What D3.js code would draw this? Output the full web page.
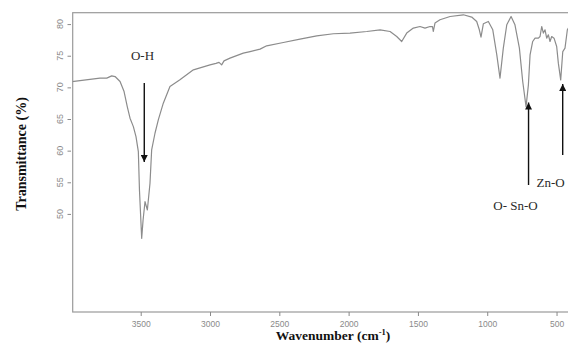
<!DOCTYPE html>
<html>
<head>
<meta charset="utf-8">
<script src="https://cdn.jsdelivr.net/npm/d3@7"></script>
<style>
  html, body { margin: 0; padding: 0; background: #fff; }
  svg { display: block; }
</style>
</head>
<body>
<svg id="chart" width="568" height="347"></svg>
<script>
// FTIR spectrum: wavenumber (cm^-1) and transmittance (%)
const wavenumbers = [4000, 3794, 3745, 3709, 3685, 3649, 3620, 3597, 3577, 3553, 3534, 3517, 3509,
  3493, 3483, 3469, 3452, 3433, 3421, 3397, 3373, 3337, 3289, 3217, 3120, 3000, 2957, 2935, 2916,
  2899, 2856, 2760, 2711, 2639, 2591, 2471, 2351, 2230, 2110, 1990, 1869, 1773, 1701, 1653, 1617,
  1581, 1533, 1485, 1449, 1413, 1395, 1389, 1377, 1341, 1268, 1172, 1112, 1076, 1057, 1045, 1028,
  992, 960, 931, 908, 884, 859, 828, 800, 768, 744, 720, 703, 691, 672, 655, 631, 619, 607, 595,
  583, 571, 559, 547, 535, 518, 499, 487, 470, 455, 439, 422, 400];
const transmittance = [70.9, 71.46, 71.46, 71.82, 71.71, 70.92, 69.34, 66.96, 65.13, 63.8, 62.22, 59.84, 53.78,
  46.14, 49.0, 51.93, 50.62, 54.84, 60.11, 62.75, 64.86, 67.5, 70.13, 71.19, 72.77, 73.56, 73.8, 73.96, 73.56,
  74.19, 74.62, 75.41, 75.66, 76.04, 76.57, 77.09, 77.63, 78.15, 78.47, 78.58, 78.83, 79.1, 78.83, 78.04, 77.25,
  78.58, 79.37, 79.62, 79.37, 79.62, 79.6, 78.83, 80.16, 80.68, 81.2, 81.47, 81.11, 80.41, 79.1, 77.94, 80.05,
  80.41, 79.1, 75.14, 71.46, 76.2, 79.89, 81.2, 79.89, 76.2, 70.92, 66.96, 70.4, 75.14, 77.25, 77.78, 77.78, 78.04, 79.62, 78.58,
  79.1, 77.78, 78.31, 77.25, 78.04, 77.78, 76.46, 73.83, 71.19, 75.66, 76.2, 79.1, 79.9];

const xTicks = [3500, 3000, 2500, 2000, 1500, 1000, 500];
const yTicks = [50, 55, 60, 65, 70, 75, 80];

// Band assignments and the wavenumber each arrow points at
const bandLabels = ["O-H", "O- Sn-O", "Zn-O"];
const bandWavenumbers = [3493, 720, 470];

const svg = d3.select("#chart");
const plotLeft = 72.7, plotTop = 12.7, plotBottom = 312, plotRight = 572;

const x = d3.scaleLinear().domain([4000, 400]).range([71.4, 570.4]);
const y = d3.scaleLinear().domain([34.5, 81.8]).range([plotBottom, plotTop]);

// Plot frame
svg.append("rect")
  .attr("x", plotLeft).attr("y", plotTop)
  .attr("width", plotRight - plotLeft).attr("height", plotBottom - plotTop)
  .attr("fill", "none").attr("stroke", "#9a9a9a").attr("stroke-width", 1.2);

// Y axis (offset slightly from the frame)
const yAxis = svg.append("g").attr("transform", "translate(71,0)")
  .call(d3.axisLeft(y).tickValues(yTicks).tickSize(3.5).tickSizeOuter(0));
yAxis.select(".domain").remove();
yAxis.selectAll(".tick line").attr("stroke", "#8a8a8a");
yAxis.selectAll(".tick text").remove();
yTicks.forEach(t => {
  svg.append("text")
    .attr("transform", `translate(63,${y(t)}) rotate(-90)`)
    .attr("text-anchor", "middle")
    .attr("font-family", "Liberation Sans, Arial, sans-serif")
    .attr("font-size", 9)
    .attr("fill", "#8a8a8a")
    .text(t);
});

// X axis
const xAxis = svg.append("g").attr("transform", `translate(0,${plotBottom})`)
  .call(d3.axisBottom(x).tickValues(xTicks).tickFormat(d3.format("d"))
    .tickSize(4).tickSizeOuter(0).tickPadding(5));
xAxis.select(".domain").remove();
xAxis.selectAll(".tick line").attr("stroke", "#8a8a8a");
xAxis.selectAll(".tick text")
  .attr("font-family", "Liberation Sans, Arial, sans-serif")
  .attr("font-size", 8.5)
  .attr("fill", "#8a8a8a");

// Axis titles
svg.append("text")
  .attr("x", 333).attr("y", 339.5)
  .attr("text-anchor", "middle")
  .attr("font-family", "Liberation Serif, Times New Roman, serif")
  .attr("font-weight", "bold")
  .attr("font-size", 13.5)
  .attr("fill", "#111")
  .html('Wavenumber (cm<tspan dy="-5" font-size="8.5">-1</tspan><tspan dy="5">)</tspan>');

svg.append("text")
  .attr("transform", "translate(26,154) rotate(-90)")
  .attr("text-anchor", "middle")
  .attr("font-family", "Liberation Serif, Times New Roman, serif")
  .attr("font-weight", "bold")
  .attr("font-size", 14)
  .attr("fill", "#111")
  .text("Transmittance (%)");

// Spectrum
const data = wavenumbers.map((w, i) => ({ w, t: transmittance[i] }));
const defs = svg.append("defs");
defs.append("clipPath").attr("id", "plotClip")
  .append("rect").attr("x", plotLeft).attr("y", plotTop)
  .attr("width", plotRight - plotLeft).attr("height", plotBottom - plotTop);
svg.append("path")
  .datum(data)
  .attr("clip-path", "url(#plotClip)")
  .attr("fill", "none")
  .attr("stroke", "#8c8c8c")
  .attr("stroke-width", 1.2)
  .attr("stroke-linejoin", "round")
  .attr("d", d3.line().x(d => x(d.w)).y(d => y(d.t)));

// Arrow heads
defs.append("marker")
  .attr("id", "head")
  .attr("viewBox", "0 0 10 10")
  .attr("refX", 10).attr("refY", 5)
  .attr("markerWidth", 8).attr("markerHeight", 7)
  .attr("markerUnits", "userSpaceOnUse")
  .attr("orient", "auto")
  .append("path").attr("d", "M0,0 L10,5 L0,10 Z").attr("fill", "#111");

const arrows = [
  { x: x(bandWavenumbers[0]) + 2.6, y1: 83, y2: 162 },
  { x: x(bandWavenumbers[1]) + 2.5, y1: 185, y2: 102.5 },
  { x: x(bandWavenumbers[2]) + 2.0, y1: 155, y2: 84 }
];
arrows.forEach(a => {
  svg.append("line")
    .attr("x1", a.x).attr("x2", a.x)
    .attr("y1", a.y1).attr("y2", a.y2)
    .attr("stroke", "#111").attr("stroke-width", 1.4)
    .attr("marker-end", "url(#head)");
});

// Band labels
const labelPos = [
  { x: 142.5, y: 60, anchor: "middle" },
  { x: 515.5, y: 210, anchor: "middle" },
  { x: 536.5, y: 186.5, anchor: "start" }
];
bandLabels.forEach((lab, i) => {
  svg.append("text")
    .attr("x", labelPos[i].x).attr("y", labelPos[i].y)
    .attr("text-anchor", labelPos[i].anchor)
    .attr("font-family", "Liberation Serif, Times New Roman, serif")
    .attr("font-size", 13)
    .attr("fill", "#2a2a2a")
    .text(lab);
});
</script>
</body>
</html>
